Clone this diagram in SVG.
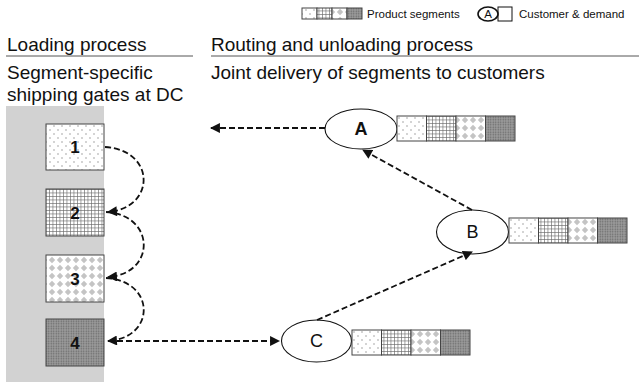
<svg xmlns="http://www.w3.org/2000/svg" width="639" height="382" viewBox="0 0 639 382">
  <defs>
    <style>
      .hdr { font-family: "Liberation Sans", Arial, sans-serif; font-size: 19px; fill: #111; }
      .rule { stroke: #555; stroke-width: 1; }
      .gate { stroke: #444; stroke-width: 1; }
      .seg { stroke: #444; stroke-width: 1; }
      .num { font-family: "Liberation Sans", Arial, sans-serif; font-size: 17px; font-weight: bold; fill: #111; text-anchor: middle; }
      .cust { fill: #fff; stroke: #111; stroke-width: 1.1; }
      .clab { font-family: "Liberation Sans", Arial, sans-serif; font-size: 18px; fill: #111; text-anchor: middle; }
      .leg { font-family: "Liberation Sans", Arial, sans-serif; font-size: 11.5px; fill: #111; }
      .route { fill: none; stroke: #111; stroke-width: 1.8; stroke-dasharray: 6 3; marker-end: url(#tip); }
    </style>
    <marker id="tip" viewBox="0 0 10 10" refX="9" refY="5" markerWidth="6" markerHeight="5.5" orient="auto" markerUnits="strokeWidth">
      <path d="M0,0 L10,5 L0,10 z" fill="#111"/>
    </marker>
    <!-- segment fills -->
    <pattern id="p-dots" width="8" height="8" patternUnits="userSpaceOnUse">
      <rect width="8" height="8" fill="#fff"/>
      <circle cx="2" cy="2" r="0.7" fill="#888"/>
      <circle cx="6" cy="6" r="0.7" fill="#888"/>
    </pattern>
    <pattern id="p-grid" width="3.5" height="3.5" patternUnits="userSpaceOnUse">
      <rect width="3.5" height="3.5" fill="#fff"/>
      <path d="M0,0.35 H3.5 M0.35,0 V3.5" stroke="#6a6a6a" stroke-width="0.7"/>
    </pattern>
    <pattern id="p-diam" width="8" height="8" patternUnits="userSpaceOnUse">
      <rect width="8" height="8" fill="#fff"/>
      <path d="M4,0.8 L7.2,4 L4,7.2 L0.8,4 z" fill="#c4c4c4"/>
    </pattern>
    <pattern id="p-dense" width="2.5" height="2.5" patternUnits="userSpaceOnUse">
      <rect width="2.5" height="2.5" fill="#9c9c9c"/>
      <circle cx="1.25" cy="1.25" r="0.75" fill="#686868"/>
    </pattern>
    <!-- four-segment demand bar -->
    <g id="bar">
      <rect x="0" y="0" width="29.5" height="25" fill="url(#p-dots)" class="seg"/>
      <rect x="29.5" y="0" width="29.5" height="25" fill="url(#p-grid)" class="seg"/>
      <rect x="59" y="0" width="29.5" height="25" fill="url(#p-diam)" class="seg"/>
      <rect x="88.5" y="0" width="29.5" height="25" fill="url(#p-dense)" class="seg"/>
    </g>
  </defs>

  <rect width="639" height="382" fill="#fff"/>

  <!-- legend -->
  <g id="legend">
    <rect x="302" y="8" width="15" height="11" fill="url(#p-dots)" class="seg"/>
    <rect x="317" y="8" width="15" height="11" fill="url(#p-grid)" class="seg"/>
    <rect x="332" y="8" width="15" height="11" fill="url(#p-diam)" class="seg"/>
    <rect x="347" y="8" width="15" height="11" fill="url(#p-dense)" class="seg"/>
    <text x="367" y="18" class="leg">Product segments</text>
    <rect x="498" y="7" width="14" height="14" fill="#fff" stroke="#111" stroke-width="1"/>
    <ellipse cx="488" cy="14" rx="10" ry="7" fill="#fff" stroke="#111" stroke-width="1.6"/>
    <text x="488" y="18" class="leg" text-anchor="middle">A</text>
    <text x="519" y="18" class="leg">Customer &amp; demand</text>
  </g>

  <!-- headings -->
  <g id="headings">
    <text x="7" y="51" class="hdr">Loading process</text>
    <line x1="6" y1="56" x2="193" y2="56" class="rule"/>
    <text x="7" y="79" class="hdr">Segment-specific</text>
    <text x="7" y="101" class="hdr">shipping gates at DC</text>
    <text x="211" y="51" class="hdr">Routing and unloading process</text>
    <line x1="211" y1="56" x2="639" y2="56" class="rule"/>
    <text x="211" y="79" class="hdr">Joint delivery of segments to customers</text>
  </g>

  <!-- distribution centre strip -->
  <rect id="dc" x="6" y="106" width="98" height="276" fill="#d2d2d2"/>

  <!-- shipping gates -->
  <g id="gate1">
    <rect x="46" y="124" width="58" height="46" fill="url(#p-dots)" class="gate"/>
    <text x="75" y="153" class="num">1</text>
  </g>
  <g id="gate2">
    <rect x="46" y="189" width="58" height="47" fill="url(#p-grid)" class="gate"/>
    <text x="75" y="219" class="num">2</text>
  </g>
  <g id="gate3">
    <rect x="46" y="255" width="58" height="47" fill="url(#p-diam)" class="gate"/>
    <text x="75" y="285" class="num">3</text>
  </g>
  <g id="gate4">
    <rect x="46" y="319" width="58" height="47" fill="url(#p-dense)" class="gate"/>
    <text x="75" y="349" class="num">4</text>
  </g>

  <!-- customers -->
  <g id="custA">
    <ellipse cx="361" cy="129" rx="36" ry="20" class="cust"/>
    <text x="361" y="135" class="clab" font-weight="bold">A</text>
    <use href="#bar" x="397" y="116"/>
  </g>
  <g id="custB">
    <ellipse cx="472.5" cy="232" rx="36" ry="22" class="cust"/>
    <text x="472.5" y="238" class="clab">B</text>
    <use href="#bar" x="509" y="218"/>
  </g>
  <g id="custC">
    <ellipse cx="316.5" cy="341" rx="35" ry="21" class="cust"/>
    <text x="316.5" y="347" class="clab">C</text>
    <use href="#bar" x="352" y="330"/>
  </g>

  <!-- connectors -->
  <g id="connectors">
    <path d="M105,147 C156,150 156,208 108,212" class="route"/>
    <path d="M106,212 C156,215 156,274 108,277" class="route"/>
    <path d="M106,278 C156,281 156,338 108,341" class="route"/>
    <path d="M108,341 H279" class="route"/>
    <path d="M317,320 L472,252" class="route"/>
    <path d="M472,210 L363,150" class="route"/>
    <path d="M325,128 H211" class="route"/>
  </g>
</svg>
